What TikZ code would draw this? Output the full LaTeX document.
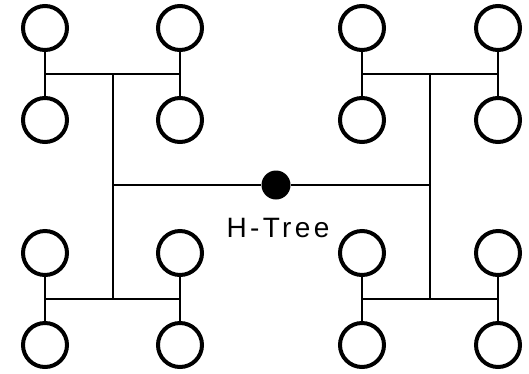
\documentclass[tikz,border=0pt]{standalone}
\usepackage{fontspec}
\setmainfont{Liberation Sans}
\newfontfamily\spaced[LetterSpace=12]{Liberation Sans}
\usetikzlibrary{positioning}
\tikzset{
  leaf/.style={draw,circle,line width=4pt,minimum size=44pt,inner sep=0pt},
  wire/.style={line width=2pt},
  root/.style={circle,fill,minimum size=29pt,inner sep=0pt}
}

\begin{document}
\begin{tikzpicture}[x=1pt,y=-1pt]
  \useasboundingbox (0,0) rectangle (529,373);
  % root and label
  \node[root] (r) at (276,185){};
  \node (lbl) at (278,228){\spaced\fontsize{28}{32}\selectfont H-Tree};
  % junctions
  \coordinate (L) at (113,185); \coordinate (R) at (430,185);
  \coordinate (Lt) at (113,74); \coordinate (Lb) at (113,299);
  \coordinate (Rt) at (430,74); \coordinate (Rb) at (430,299);
  % leaves
  \foreach \x/\n in {45/a,180/b,362/c,498/d}
    \foreach \y/\m in {28/1,120/2,253/3,345/4}
      \node[leaf] (\n\m) at (\x,\y){};
  % stems
  \foreach \n in {a,b,c,d}{
    \draw[wire] (\n1) -- (\n2);
    \draw[wire] (\n3) -- (\n4);
  }
  % bars
  \draw[wire] (Lt -| a1) -- (Lt -| b1);
  \draw[wire] (Lb -| a1) -- (Lb -| b1);
  \draw[wire] (Rt -| c1) -- (Rt -| d1);
  \draw[wire] (Rb -| c1) -- (Rb -| d1);
  \draw[wire] (Lt) -- (Lb);
  \draw[wire] (Rt) -- (Rb);
  \draw[wire] (L) -- (r) -- (R);
\end{tikzpicture}
\end{document}
